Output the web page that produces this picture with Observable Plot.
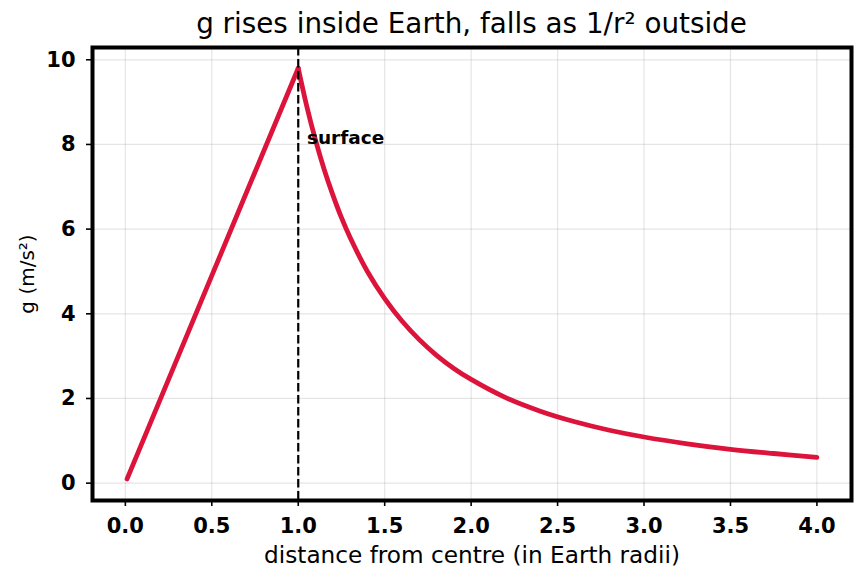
<!DOCTYPE html>
<html>
<head>
<meta charset="utf-8">
<script src="https://cdn.jsdelivr.net/npm/d3@7"></script>
<script src="https://cdn.jsdelivr.net/npm/@observablehq/plot@0.6"></script>
<style>
  html, body { margin: 0; padding: 0; background: #fff; }
  #wrap { width: 864px; height: 581px; position: relative; font-family: "DejaVu Sans", sans-serif; }
  #title { height: 40px; width: 864px; position: relative; }
  #title span { position: absolute; left: 92px; width: 759px; text-align: center; top: 8px; font-size: 27.8px; line-height: 32px; color: #000; white-space: nowrap; }
</style>
</head>
<body>
<div id="wrap">
  <div id="title"><span>g rises inside Earth, falls as 1/r² outside</span></div>
  <div id="chart"></div>
</div>
<script>
// distance from centre (Earth radii) and g (m/s²)
const rInside = [0.01, 0.25, 0.5, 0.75, 1.0];
const gInside = [0.10, 2.45, 4.90, 7.35, 9.80];
const rOutside = [1.0, 1.05, 1.1, 1.15, 1.2, 1.25, 1.3, 1.4, 1.5, 1.6, 1.7, 1.8, 1.9, 2.0, 2.2, 2.4, 2.6, 2.8, 3.0, 3.25, 3.5, 3.75, 4.0];
const gOutside = [9.80, 8.89, 8.10, 7.41, 6.81, 6.27, 5.80, 5.00, 4.36, 3.83, 3.39, 3.02, 2.71, 2.45, 2.02, 1.70, 1.45, 1.25, 1.09, 0.93, 0.80, 0.70, 0.61];
const xTicks = [0, 0.5, 1, 1.5, 2, 2.5, 3, 3.5, 4];
const yTicks = [0, 2, 4, 6, 8, 10];
const surfaceR = 1.0;
const surfaceLabel = "surface";
const surfaceLabelPos = {r: 1.05, g: 8};
const xLabel = "distance from centre (in Earth radii)";
const yLabel = "g (m/s²)";

const inside = rInside.map((r, i) => ({r, g: gInside[i]}));
const outside = rOutside.map((r, i) => ({r, g: gOutside[i]}));

const font = "DejaVu Sans";
const red = "#dc143c";

const chart = Plot.plot({
  width: 864,
  height: 541,
  marginTop: 7,
  marginBottom: 81,
  marginLeft: 92,
  marginRight: 13,
  style: {fontFamily: font, background: "white", overflow: "visible"},
  x: {domain: [-0.19, 4.2]},
  y: {domain: [-0.41, 10.29]},
  marks: [
    Plot.gridX(xTicks, {stroke: "#b0b0b0", strokeOpacity: 0.33, strokeWidth: 1.2}),
    Plot.gridY(yTicks, {stroke: "#b0b0b0", strokeOpacity: 0.33, strokeWidth: 1.2}),
    Plot.axisX(xTicks, {tickFormat: d3.format(".1f"), tickSize: 6, tickPadding: 12, fontSize: 21, fontWeight: "bold", fill: "black", stroke: "black", strokeWidth: 1.6, label: null}),
    Plot.axisY(yTicks, {tickFormat: d3.format("d"), tickSize: 6, tickPadding: 11, fontSize: 21, fontWeight: "bold", fill: "black", stroke: "black", strokeWidth: 1.6, label: null}),
    Plot.line(inside, {x: "r", y: "g", stroke: red, strokeWidth: 4.8, strokeLinejoin: "round", strokeLinecap: "round"}),
    Plot.line(outside, {x: "r", y: "g", curve: "catmull-rom", stroke: red, strokeWidth: 4.8, strokeLinejoin: "round", strokeLinecap: "round"}),
    Plot.ruleX([surfaceR], {stroke: "black", strokeWidth: 2.2, strokeDasharray: "8.5,3.5"}),
    Plot.text([surfaceLabelPos], {x: "r", y: "g", text: () => surfaceLabel, textAnchor: "start", lineAnchor: "middle", dy: -6, fontSize: 18.5, fontWeight: "bold", fill: "black"}),
    Plot.text([xLabel], {frameAnchor: "bottom", text: d => d, dy: 55, lineAnchor: "middle", fontSize: 23.2, fill: "black"}),
    Plot.text([yLabel], {frameAnchor: "left", text: d => d, textAnchor: "middle", dx: -65, rotate: -90, lineAnchor: "middle", fontSize: 20, fill: "black"}),
    Plot.frame({stroke: "black", strokeWidth: 4})
  ]
});
document.getElementById("chart").appendChild(chart);
</script>
</body>
</html>
